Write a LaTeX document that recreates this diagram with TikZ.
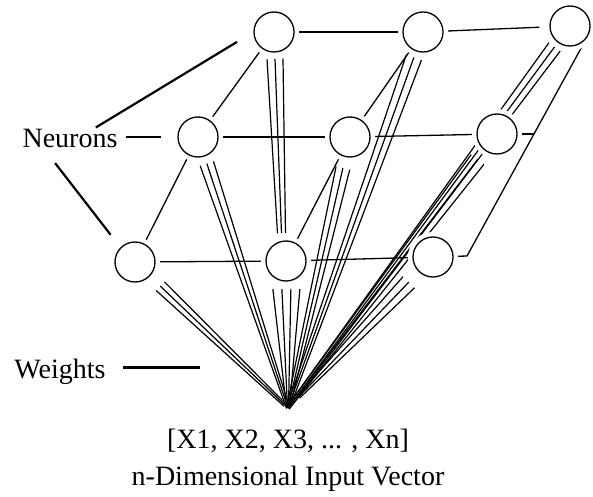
\documentclass[tikz,border=0pt]{standalone}
\usepackage{fontspec}
\setmainfont{Liberation Serif}
\usetikzlibrary{calc}
\pgfdeclarelayer{bg}
\pgfsetlayers{bg,main}

\begin{document}
\begin{tikzpicture}[x=1bp, y=-1bp,
        neuron/.style={draw, circle, line width=1.3bp, fill=white, minimum size=40bp, inner sep=0pt, preaction={draw=white, line width=10bp}},
        link/.style={line width=1.3bp},
        weight/.style={line width=1.2bp},
        lbl/.style={inner sep=2bp, font=\fontsize{28bp}{37bp}\selectfont}]
        \useasboundingbox (0,0) rectangle (593,497);

        \node[neuron] (t1) at (274,32) {};
        \node[neuron] (t2) at (423,32) {};
        \node[neuron] (t3) at (570,26) {};
        \node[neuron] (m1) at (198,137) {};
        \node[neuron] (m2) at (350,137) {};
        \node[neuron] (m3) at (497,134) {};
        \node[neuron] (b1) at (135,262) {};
        \node[neuron] (b2) at (286,261) {};
        \node[neuron] (b3) at (433,257) {};
        \coordinate (apex) at (288,408);
        \coordinate (rc) at (467,256);
        \coordinate (rs) at (534,134);
        \coordinate (wend) at (200,367);

        \node[lbl, anchor=base] (nlbl) at (70,148) {Neurons};
        \node[lbl, anchor=base] (wlbl) at (60,378) {Weights};
        \node[lbl, anchor=north, align=center] (vec) at (288,427) {[X1, X2, X3, ... , Xn]\\n-Dimensional Input Vector};

        \begin{pgfonlayer}{bg}
        \draw[link] (t1) -- (t2);
        \draw[link, shorten >=10bp] (t2) -- (t3);
        \draw[link] (m1) -- (m2);
        \draw[link] (m2) -- (m3);
        \draw[link] (m3) -- (rs);
        \draw[link] (b1) -- (b2);
        \draw[link] (b2) -- (b3);
        \draw[link] (t1) -- (m1);
        \draw[link] (m1) -- (b1);
        \draw[link] (t2) -- (m2);
        \draw[link] (m2) -- (b2);
        \draw[link] (t3.322) -- (rc) -- (b3);

        \foreach \n/\s/\e/\w in {t2/27/0/8, t3/26/0/7, m1/28/0/7, m2/32/0/7, m3/32/0/8, b1/35/4/6, b3/35/15/8}
            \foreach \k in {-1,0,1}
                \draw[weight] ($(\n)!\s bp!(apex)!{\k*\w bp}!90:(apex)$) -- ($(apex)!\e bp!(\n)!{\k*1.5bp}!-90:(\n)$);
        \foreach \k in {-1,0,1}
            \draw[weight] ($(t1)!27bp!(apex)!{\k*8bp}!90:(apex)$) -- ($(apex)!175bp!(t1)!{\k*4bp}!-90:(t1)$);
        \foreach \k in {-1.5,-0.5,0.5,1.5}
            \draw[weight] ($(b2)!28bp!(apex)!{\k*9bp}!90:(apex)$) -- ($(apex)!0bp!(b2)!{\k*1bp}!-90:(b2)$);

        \draw[line width=2.2bp, shorten >=19bp] (nlbl.24) -- (t1.west);
        \draw[line width=2.2bp, shorten <=6bp, shorten >=16bp] (nlbl.east |- m1) -- (m1);
        \draw[line width=2.2bp, shorten <=16bp, shorten >=16bp] (nlbl.205) -- (b1.north west);
        \draw[line width=3bp, shorten <=15bp] (wlbl.east |- wend) -- (wend);
        \end{pgfonlayer}
    \end{tikzpicture}
\end{document}
